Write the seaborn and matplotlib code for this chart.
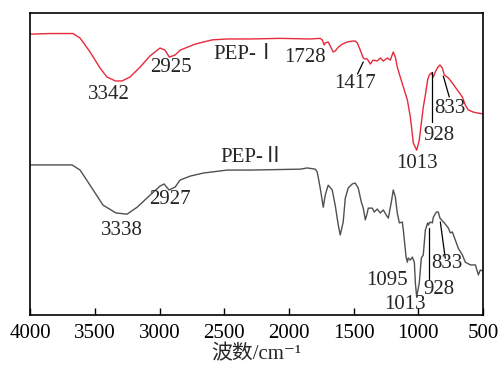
import matplotlib
matplotlib.use("Agg")
import matplotlib.pyplot as plt
import numpy as np
import pandas as pd
import seaborn as sns

# FT-IR spectra (wavenumber in cm^-1, transmittance in arbitrary units, curves offset)
pep1_wn = [4000, 3848, 3670, 3615, 3538, 3461, 3407, 3342, 3291, 3229, 3151, 3074,
           2997, 2958, 2925, 2880, 2842, 2726, 2594, 2478, 2300, 2068, 1836, 1759,
           1743, 1728, 1720, 1697, 1658, 1643, 1619, 1588, 1550, 1511, 1488, 1472,
           1449, 1426, 1417, 1395, 1372, 1349, 1318, 1294, 1271, 1240, 1217, 1194,
           1178, 1163, 1140, 1116, 1085, 1062, 1039, 1013, 993, 977, 962, 946, 928,
           915, 900, 884, 869, 853, 833, 815, 799, 768, 737, 699, 660, 637, 614,
           575, 544, 500]
pep1_t = [92.9, 93.1, 93.1, 91.6, 87.0, 81.7, 78.7, 77.4, 77.4, 78.7, 82.0, 85.7,
          88.3, 87.6, 85.3, 86.0, 87.6, 89.6, 91.0, 91.3, 91.3, 91.5, 91.3, 91.5,
          91.0, 89.3, 90.0, 90.3, 87.0, 87.3, 88.6, 89.6, 90.3, 90.6, 90.6, 90.0,
          87.6, 85.0, 84.7, 84.7, 83.0, 84.3, 84.0, 85.0, 84.0, 85.0, 84.3, 87.0,
          85.3, 82.0, 78.7, 75.4, 71.1, 65.5, 56.9, 54.5, 57.8, 63.5, 68.7, 72.7, 77.8,
          79.4, 80.1, 78.7, 80.4, 81.7, 82.7, 81.7, 79.4, 78.4, 76.7, 74.4, 72.1, 69.4, 67.8,
          67.1, 66.8, 66.5]

pep2_wn = [4000, 3848, 3677, 3615, 3538, 3438, 3338, 3252, 3174, 3074, 2997, 2966,
           2927, 2880, 2842, 2764, 2664, 2478, 2300, 1913, 1859, 1797, 1782, 1759,
           1735, 1720, 1697, 1666, 1643, 1619, 1604, 1581, 1565, 1542, 1511, 1488,
           1465, 1441, 1426, 1410, 1395, 1387, 1356, 1341, 1318, 1294, 1271, 1248,
           1232, 1209, 1194, 1178, 1163, 1147, 1124, 1116, 1095, 1085, 1078, 1062,
           1047, 1031, 1023, 1013, 993, 977, 962, 946, 928, 923, 908, 892, 884, 861,
           846, 833, 807, 799, 768, 753, 737, 714, 691, 660, 637, 598, 559, 536, 521, 500]
pep2_t = [49.6, 49.6, 49.6, 47.9, 42.9, 36.3, 33.7, 33.3, 35.6, 39.6, 42.6, 43.3,
          41.3, 42.3, 44.6, 45.9, 46.9, 47.9, 47.9, 48.2, 48.6, 48.2, 47.3, 42.0,
          35.6, 39.6, 42.9, 41.3, 36.3, 29.7, 26.4, 30.7, 38.6, 42.0, 43.3, 43.6,
          42.0, 37.3, 35.3, 31.4, 33.7, 35.3, 35.3, 34.0, 35.0, 33.7, 34.7, 33.0,
          32.0, 37.3, 41.3, 39.0, 33.7, 30.4, 30.7, 28.0, 19.1, 17.4, 18.8, 18.1,
          19.1, 17.4, 10.5, 5.9, 10.5, 18.8, 19.8, 28.0, 30.4, 29.7, 30.7, 30.4, 32.3, 34.0,
          34.0, 32.0, 30.7, 30.4, 28.7, 27.1, 27.4, 24.7, 22.0, 19.8, 17.4, 16.5, 16.5, 13.2, 14.8, 14.5]

x_ticks = [4000, 3500, 3000, 2500, 2000, 1500, 1000, 500]

sns.set_style("white")
plt.rcParams["font.family"] = ["Liberation Serif", "Noto Sans CJK SC", "DejaVu Serif"]

df = pd.concat([
    pd.DataFrame({"wn": pep1_wn, "T": pep1_t, "sample": "PEP-Ⅰ"}),
    pd.DataFrame({"wn": pep2_wn, "T": pep2_t, "sample": "PEP-Ⅱ"}),
])

fig = plt.figure(figsize=(4.99, 3.69), dpi=100)
ax = fig.add_axes([0.0607, 0.147, 0.9073, 0.8186])

sns.lineplot(data=df, x="wn", y="T", hue="sample", sort=False, estimator=None,
             palette={"PEP-Ⅰ": "#e8293c", "PEP-Ⅱ": "#505050"}, linewidth=1.0,
             legend=False, ax=ax)

ax.set_xlim(4000, 500)
ax.set_ylim(0, 100)
ax.set_xticks(x_ticks)
ax.set_xticklabels([str(t) for t in x_ticks], fontsize=15)
ax.set_yticks([])
ax.tick_params(axis="x", direction="in", length=5, width=1, pad=7, bottom=True, colors="black")
ax.set_xlabel("波数/cm⁻¹", fontsize=15, labelpad=1)
ax.set_ylabel("")
for s in ax.spines.values():
    s.set_color("black")
    s.set_linewidth(1.2)

fs = 15
# peak labels, PEP-I
ax.text(3391, 72.9, "3342", ha="center", va="center", fontsize=fs)
ax.text(2911, 82.0, "2925", ha="center", va="center", fontsize=fs)
ax.text(2586, 86.0, "PEP-Ⅰ", ha="left", va="center", fontsize=fs)
ax.text(1875, 85.3, "1728", ha="center", va="center", fontsize=fs)
ax.text(1488, 76.4, "1417", ha="center", va="center", fontsize=fs)
ax.plot([1470, 1426], [79.7, 83.7], color="black", lw=0.9)
ax.text(1008, 50.2, "1013", ha="center", va="center", fontsize=fs)
ax.text(838, 59.5, "928", ha="center", va="center", fontsize=fs)
ax.plot([892, 892], [63.8, 80.4], color="black", lw=0.9)
ax.text(753, 68.4, "833", ha="center", va="center", fontsize=fs)
ax.plot([807, 761], [79.0, 72.1], color="black", lw=0.9)

# peak labels, PEP-II
ax.text(2532, 52.2, "PEP-Ⅱ", ha="left", va="center", fontsize=fs)
ax.text(2919, 38.0, "2927", ha="center", va="center", fontsize=fs)
ax.text(3290, 28.0, "3338", ha="center", va="center", fontsize=fs)
ax.text(1240, 11.2, "1095", ha="center", va="center", fontsize=fs)
ax.text(1101, 3.5, "1013", ha="center", va="center", fontsize=fs)
ax.text(838, 8.2, "928", ha="center", va="center", fontsize=fs)
ax.plot([915, 915], [11.8, 28.7], color="black", lw=0.9)
ax.text(776, 17.1, "833", ha="center", va="center", fontsize=fs)
ax.plot([830, 792], [30.7, 18.7], color="black", lw=0.9)

fig.savefig("out.png", dpi=100)
